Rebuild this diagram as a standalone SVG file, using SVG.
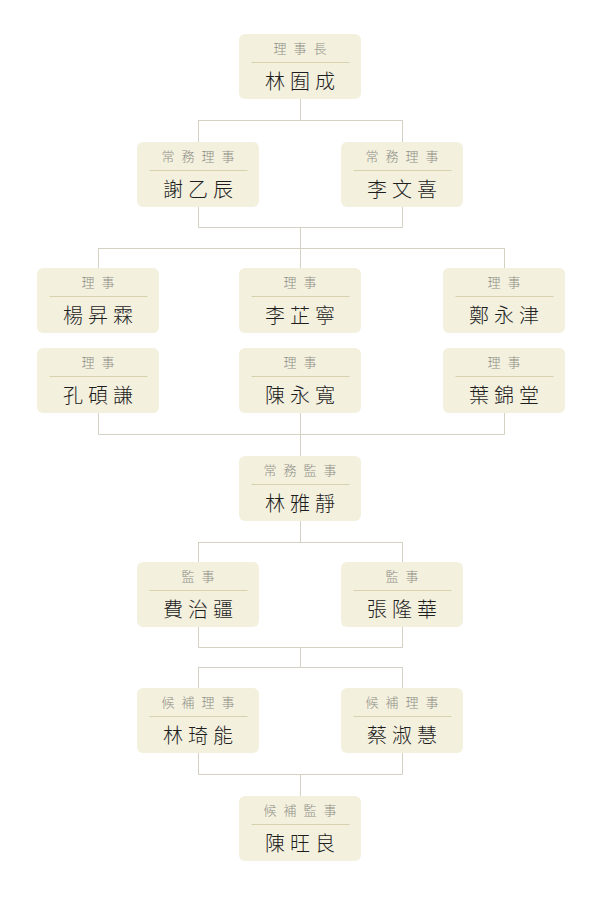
<svg xmlns="http://www.w3.org/2000/svg" width="600" height="900" viewBox="0 0 600 900">
<style>
.box{fill:#f3f0de;}
.div{stroke:#d8d1ad;stroke-width:1;}
.t{font-family:"Noto Sans CJK TC","Noto Sans CJK JP",sans-serif;font-size:13px;font-weight:300;fill:#8f8e86;letter-spacing:7px;text-anchor:middle;dominant-baseline:central;}
.n{font-family:"Noto Sans CJK TC","Noto Sans CJK JP",sans-serif;font-size:20px;font-weight:300;fill:#1e1e1e;letter-spacing:5px;text-anchor:middle;dominant-baseline:central;}
.c{stroke:#d4d1c3;stroke-width:1;fill:none;}
</style>
<defs>
<g id="card">
<rect class="box" x="0" y="0" width="122" height="65" rx="6"/>
<line class="div" x1="12.5" y1="28.5" x2="110.5" y2="28.5"/>
</g>
</defs>
<rect width="600" height="900" fill="#fff"/>
<g id="connectors">
<path class="c" d="M300.5 99V120.5M198.5 120.5H402.5M198.5 120V142M402.5 120V142"/>
<path class="c" d="M198.5 207V227.5M402.5 207V227.5M198.5 227.5H402.5M300.5 227V248.5M98.5 248.5H504.5M98.5 248V268M300.5 248V268M504.5 248V268"/>
<path class="c" d="M98.5 413V434.5M504.5 413V434.5M98.5 434.5H504.5M300.5 413V456"/>
<path class="c" d="M300.5 521V542.5M198.5 542.5H402.5M198.5 542V562M402.5 542V562"/>
<path class="c" d="M198.5 627V647.5M402.5 627V647.5M198.5 647.5H402.5M300.5 647V667.5M198.5 667.5H402.5M198.5 667V688M402.5 667V688"/>
<path class="c" d="M198.5 753V774.5M402.5 753V774.5M198.5 774.5H402.5M300.5 774V796"/>
</g>
<g id="n-chair" transform="translate(239,34)"><use href="#card"/><text class="t" x="64.5" y="13.5">理事長</text><text class="n" x="63.5" y="46.5">林囿成</text></g>
<g id="n-exec1" transform="translate(137,142)"><use href="#card"/><text class="t" x="64.5" y="13.5">常務理事</text><text class="n" x="63.5" y="46.5">謝乙辰</text></g>
<g id="n-exec2" transform="translate(341,142)"><use href="#card"/><text class="t" x="64.5" y="13.5">常務理事</text><text class="n" x="63.5" y="46.5">李文喜</text></g>
<g id="n-d1" transform="translate(37,268)"><use href="#card"/><text class="t" x="64.5" y="13.5">理事</text><text class="n" x="63.5" y="46.5">楊昇霖</text></g>
<g id="n-d2" transform="translate(239,268)"><use href="#card"/><text class="t" x="64.5" y="13.5">理事</text><text class="n" x="63.5" y="46.5">李芷寧</text></g>
<g id="n-d3" transform="translate(443,268)"><use href="#card"/><text class="t" x="64.5" y="13.5">理事</text><text class="n" x="63.5" y="46.5">鄭永津</text></g>
<g id="n-d4" transform="translate(37,348)"><use href="#card"/><text class="t" x="64.5" y="13.5">理事</text><text class="n" x="63.5" y="46.5">孔碩謙</text></g>
<g id="n-d5" transform="translate(239,348)"><use href="#card"/><text class="t" x="64.5" y="13.5">理事</text><text class="n" x="63.5" y="46.5">陳永寬</text></g>
<g id="n-d6" transform="translate(443,348)"><use href="#card"/><text class="t" x="64.5" y="13.5">理事</text><text class="n" x="63.5" y="46.5">葉錦堂</text></g>
<g id="n-sup-exec" transform="translate(239,456)"><use href="#card"/><text class="t" x="64.5" y="13.5">常務監事</text><text class="n" x="63.5" y="46.5">林雅靜</text></g>
<g id="n-sup1" transform="translate(137,562)"><use href="#card"/><text class="t" x="64.5" y="13.5">監事</text><text class="n" x="63.5" y="46.5">費治疆</text></g>
<g id="n-sup2" transform="translate(341,562)"><use href="#card"/><text class="t" x="64.5" y="13.5">監事</text><text class="n" x="63.5" y="46.5">張隆華</text></g>
<g id="n-alt1" transform="translate(137,688)"><use href="#card"/><text class="t" x="64.5" y="13.5">候補理事</text><text class="n" x="63.5" y="46.5">林琦能</text></g>
<g id="n-alt2" transform="translate(341,688)"><use href="#card"/><text class="t" x="64.5" y="13.5">候補理事</text><text class="n" x="63.5" y="46.5">蔡淑慧</text></g>
<g id="n-alt-sup" transform="translate(239,796)"><use href="#card"/><text class="t" x="64.5" y="13.5">候補監事</text><text class="n" x="63.5" y="46.5">陳旺良</text></g>
</svg>
